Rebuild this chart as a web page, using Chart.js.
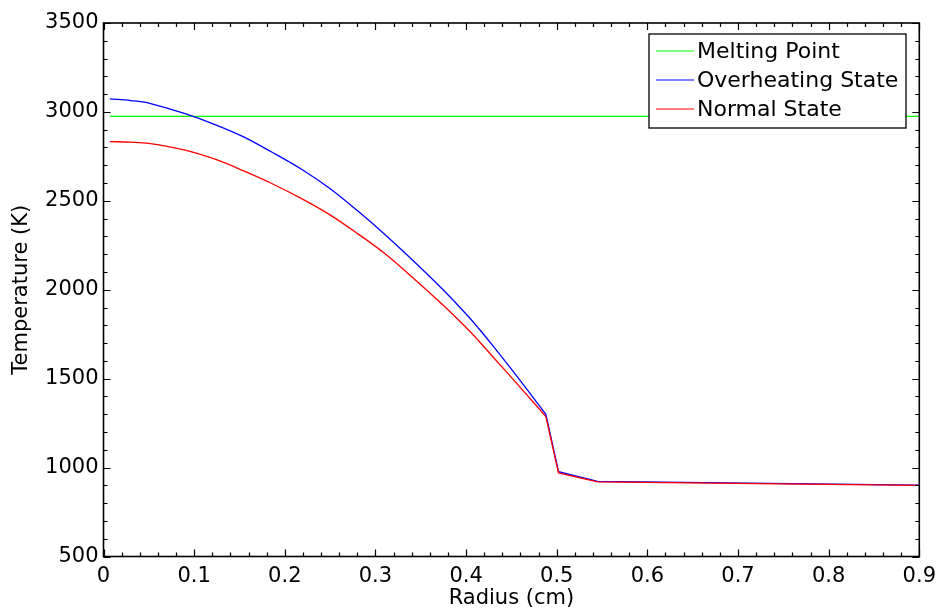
<!DOCTYPE html>
<html>
<head>
    <meta charset="utf-8">
    <title>Temperature vs Radius</title>
    <script src="https://cdn.jsdelivr.net/npm/chart.js"></script>
    <style>
        body { margin: 0; background: #fff; }
        #chart { display: block; }
    </style>
</head>
<body>
    <canvas id="chart" width="943" height="615"></canvas>

    <script>
        // values (radius in cm, temperature in K)
        const radius      = [0.007, 0.03, 0.05, 0.09, 0.123, 0.154, 0.185, 0.218, 0.249, 0.28, 0.311, 0.344, 0.376, 0.403, 0.414, 0.431, 0.46, 0.488, 0.502, 0.545, 0.9];
        const overheating = [3073, 3064, 3050, 2990, 2929, 2861, 2776, 2679, 2572, 2445, 2308, 2152, 1993, 1847, 1782, 1676, 1488, 1300, 977, 922, 901];
        const normal      = [2833, 2830, 2823, 2785, 2734, 2670, 2599, 2514, 2424, 2317, 2201, 2055, 1907, 1772, 1712, 1615, 1450, 1287, 970, 920, 900];
        const meltingR    = [0.007, 0.9];
        const meltingT    = [2975, 2975];
        // index of the fuel surface, where the smooth part ends and the gap/clad part starts
        const surfaceIdx = 17;

        const labels = ['Melting Point', 'Overheating State', 'Normal State'];
        const xTicks = [0, 0.1, 0.2, 0.3, 0.4, 0.5, 0.6, 0.7, 0.8, 0.9];
        const yTicks = [500, 1000, 1500, 2000, 2500, 3000, 3500];

        const toPoints = (xs, ys) => xs.map((v, i) => ({ x: v, y: ys[i] }));
        const fuelPart = ys => toPoints(radius, ys).slice(0, surfaceIdx + 1);
        const outerPart = ys => toPoints(radius, ys).slice(surfaceIdx);

        Chart.defaults.color = '#000';
        Chart.defaults.font.family = '"DejaVu Sans", sans-serif';

        // frame with inward ticks on all four sides, like the original plot
        const frameTicks = {
            id: 'frameTicks',
            afterDatasetsDraw(chart) {
                const { ctx, chartArea: a, scales: { x, y } } = chart;
                ctx.save();
                ctx.strokeStyle = '#000';
                ctx.lineWidth = 1.2;
                ctx.beginPath();
                for (let i = 0; i <= 45; i++) {
                    const px = Math.round(x.getPixelForValue(i * 0.02)) + 0.5;
                    const len = i % 5 === 0 ? 7 : 4;
                    ctx.moveTo(px, a.bottom); ctx.lineTo(px, a.bottom - len);
                    ctx.moveTo(px, a.top); ctx.lineTo(px, a.top + len);
                }
                for (let v = 500; v <= 3500; v += 100) {
                    const py = Math.round(y.getPixelForValue(v)) + 0.5;
                    const len = v % 500 === 0 ? 7 : 4;
                    ctx.moveTo(a.left, py); ctx.lineTo(a.left + len, py);
                    ctx.moveTo(a.right, py); ctx.lineTo(a.right - len, py);
                }
                ctx.stroke();
                ctx.lineWidth = 1.6;
                ctx.strokeRect(a.left, a.top, a.right - a.left, a.bottom - a.top);
                ctx.restore();
            }
        };

        // boxed legend in the upper right corner (first three datasets only)
        const boxLegend = {
            id: 'boxLegend',
            afterDraw(chart) {
                const { ctx } = chart;
                const ds = chart.data.datasets.slice(0, 3);
                const left = 649, top = 34, w = 257, h = 94;
                ctx.save();
                ctx.fillStyle = '#fff';
                ctx.fillRect(left, top, w, h);
                ctx.strokeStyle = '#000';
                ctx.lineWidth = 1.3;
                ctx.strokeRect(left, top, w, h);
                ctx.font = '22px "DejaVu Sans", sans-serif';
                ctx.textBaseline = 'middle';
                ds.forEach((d, i) => {
                    const cy = 51 + i * 29;
                    ctx.strokeStyle = d.borderColor;
                    ctx.lineWidth = 1.2;
                    ctx.beginPath();
                    ctx.moveTo(656, cy); ctx.lineTo(694, cy);
                    ctx.stroke();
                    ctx.fillStyle = '#000';
                    ctx.fillText(d.label, 697, cy + 1);
                });
                ctx.restore();
            }
        };

        new Chart(document.getElementById('chart'), {
            type: 'line',
            data: {
                datasets: [{
                    label: labels[0],
                    data: toPoints(meltingR, meltingT),
                    borderColor: '#00ff00',
                    order: 5
                }, {
                    label: labels[1],
                    data: fuelPart(overheating),
                    borderColor: '#0000ff',
                    tension: 0.35,
                    order: 4
                }, {
                    label: labels[2],
                    data: fuelPart(normal),
                    borderColor: '#ff0000',
                    tension: 0.35,
                    order: 3
                }, {
                    label: labels[1] + ' (outer)',
                    data: outerPart(overheating),
                    borderColor: '#0000ff',
                    order: 2
                }, {
                    label: labels[2] + ' (outer)',
                    data: outerPart(normal),
                    borderColor: '#ff0000',
                    order: 1
                }]
            },
            options: {
                responsive: false,
                animation: false,
                devicePixelRatio: 1,
                layout: { padding: { top: 23, right: 21, left: 0, bottom: 0 } },
                elements: { point: { radius: 0 }, line: { tension: 0, borderWidth: 1.3 } },
                plugins: { legend: { display: false }, tooltip: { enabled: false } },
                scales: {
                    x: {
                        type: 'linear',
                        min: 0,
                        max: 0.9,
                        afterBuildTicks: s => { s.ticks = xTicks.map(v => ({ value: v })); },
                        afterFit: s => { s.height = 58.5; },
                        grid: { display: false, drawTicks: false },
                        border: { display: false },
                        ticks: {
                            padding: 7,
                            font: { size: 21 },
                            maxRotation: 0,
                            autoSkip: false,
                            callback: v => String(Math.round(v * 10) / 10)
                        },
                        title: {
                            display: true,
                            text: 'Radius (cm)',
                            font: { size: 21 },
                            padding: { top: 0, bottom: 4 }
                        }
                    },
                    y: {
                        min: 500,
                        max: 3500,
                        afterBuildTicks: s => { s.ticks = yTicks.map(v => ({ value: v })); },
                        afterFit: s => { s.width = 103.5; },
                        grid: { display: false, drawTicks: false },
                        border: { display: false },
                        ticks: {
                            padding: 5,
                            font: { size: 21 },
                            autoSkip: false,
                            callback: v => String(v)
                        },
                        title: {
                            display: true,
                            text: 'Temperature (K)',
                            font: { size: 21 },
                            padding: { top: 9, bottom: 0 }
                        }
                    }
                }
            },
            plugins: [frameTicks, boxLegend]
        });
    </script>
</body>
</html>
